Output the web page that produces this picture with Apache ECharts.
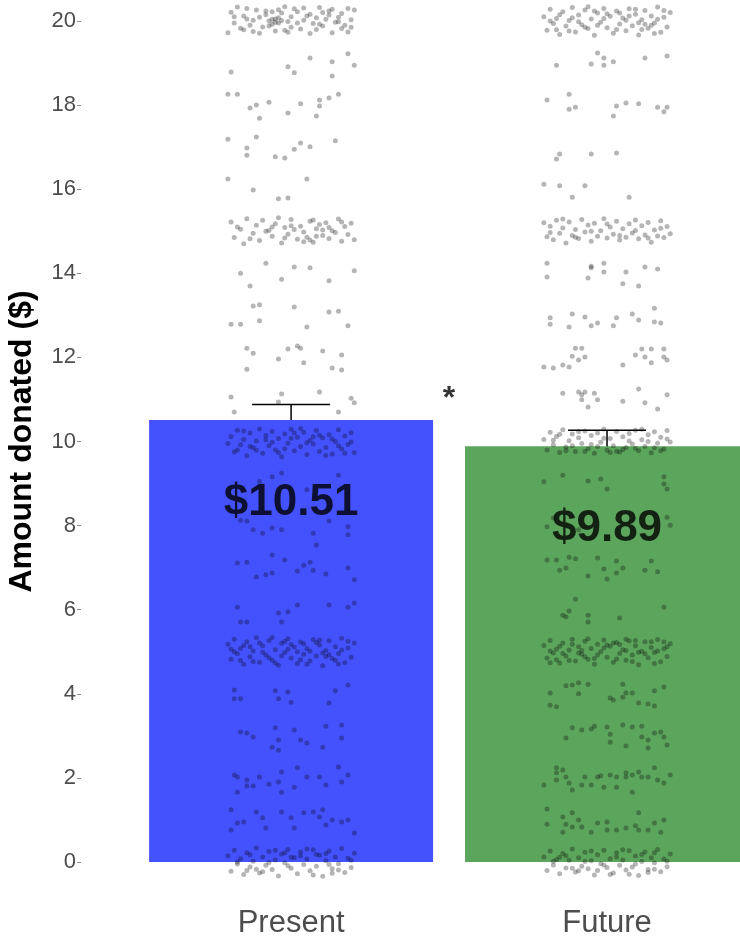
<!DOCTYPE html>
<html>
<head>
<meta charset="utf-8">
<script src="https://cdn.jsdelivr.net/npm/echarts@6/dist/echarts.min.js"></script>
<style>
  html, body { margin: 0; padding: 0; background: #fff; }
  #main { width: 740px; height: 938px; }
</style>
</head>
<body>
<div id="main"></div>
<script>
// bars
const categories = ['Present', 'Future'];
const means = [10.51, 9.89];
const errLow = [10.14, 9.51];
const errHigh = [10.88, 10.27];
const labelY = [8.55, 7.93];
const barColors = ['#4452fe', '#5ca55c'];
// significance mark between the bars
const sigMark = [[1, 11.0]];

// jittered donations: [x offset from category centre, amount]
const presentDots = [
  // ~20
  [-.19,20.21],[-.16,19.83],[-.14,20.30],[-.12,20.02],[-.10,19.71],[-.08,20.15],[-.06,19.92],[-.05,20.05],[-.04,20.27],[-.02,19.78],
  [.00,20.10],[.02,19.95],[.04,20.31],[.06,19.70],[.08,20.08],[.10,19.88],[.12,20.24],[.14,19.97],[.16,20.18],[.18,19.74],
  [.19,20.03],[-.18,19.95],[-.15,20.12],[-.11,20.26],[-.09,19.86],[-.07,20.00],[-.05,19.76],[-.03,20.19],[-.01,19.99],[.01,20.29],
  [.03,19.81],[.05,20.12],[.07,19.94],[.09,20.32],[.11,20.04],[.13,19.72],[.15,20.09],[.17,19.90],[.20,20.26],[-.20,19.72],
  [-.17,20.33],[-.13,19.90],[-.06,20.22],[-.04,20.08],[-.05,19.97],[.00,19.85],[.04,20.02],[.08,19.80],[.12,20.14],[.16,19.82],
  [-.10,20.09],[-.15,19.79],[.18,20.30],[-.02,20.34],[.10,20.20],[-.07,19.88],[-.06,20.04],[-.04,19.95],[-.08,20.24],[.13,20.28],
  [-.12,19.75],[.06,20.16],[.15,19.98],[-.18,20.10],[.02,20.22],[-.01,19.73],[.19,19.85],[-.14,20.05],[.09,19.92],[-.03,20.01],
  // 19
  [-.19,18.79],[-.01,18.91],[.01,18.77],[.06,19.12],[.13,19.03],[.13,18.69],[.18,19.22],[.20,18.95],
  // 18
  [-.20,18.26],[-.17,18.26],[-.13,17.93],[-.11,18.00],[-.10,17.69],[-.07,18.07],[-.01,17.81],[.03,18.03],[.08,17.74],[.09,18.12],
  [.09,17.98],[.12,18.17],[.15,18.26],
  // 17
  [-.20,17.19],[-.14,16.98],[-.14,16.81],[-.11,17.24],[-.05,16.77],[-.02,16.74],[.01,16.95],[.03,17.10],[.06,17.01],[.14,17.15],
  // 16
  [-.20,16.24],[-.12,15.98],[-.04,15.77],[-.01,15.79],[.05,16.24],
  // ~15
  [-.19,15.22],[-.18,14.85],[-.16,15.05],[-.15,14.70],[-.14,15.30],[-.12,14.95],[-.11,15.14],[-.10,14.78],[-.09,15.26],[-.07,15.02],
  [-.06,14.88],[-.05,15.18],[-.03,14.72],[-.02,15.09],[-.01,14.93],[.00,15.28],[.02,14.81],[.03,15.12],[.04,14.98],[.06,15.24],
  [.07,14.74],[.08,15.06],[.10,14.90],[.11,15.20],[.12,14.83],[.13,15.01],[.15,15.29],[.16,14.76],[.17,15.11],[.18,14.92],
  [.19,15.19],[.20,14.80],[-.17,15.10],[-.13,14.82],[-.08,15.00],[-.04,15.32],[.01,15.04],[.05,14.86],[.09,15.16],[.14,14.97],
  [.04,14.75],[.00,15.13],[-.02,14.84],[.07,15.27],[.12,15.09],[.06,14.79],[.10,15.03],[.08,14.88],[-.06,15.10],[.16,15.22],
  // 14
  [-.08,14.24],[-.16,14.00],[-.13,13.70],[.01,14.15],[-.03,13.86],[.06,14.13],[.12,13.82],[.20,14.06],
  // 13
  [-.12,13.22],[-.10,13.25],[.01,13.20],[.12,13.08],[.15,13.10],[-.19,12.79],[-.16,12.79],[-.10,12.87],[.05,12.72],[.18,12.75],
  // 12
  [-.14,12.22],[-.12,12.10],[-.14,11.72],[-.04,11.96],[-.01,12.20],[.02,12.27],[.03,12.22],[.04,11.87],[.10,12.15],[.13,11.75],
  [.16,12.06],[.16,11.70],
  // 11
  [-.19,11.06],[-.18,10.70],[-.03,11.13],[-.04,10.94],[.09,11.18],[.19,11.03],[.20,10.92],[.15,10.70],
  // ~10
  [-.19,10.12],[-.18,9.75],[-.17,10.27],[-.16,9.92],[-.15,10.05],[-.14,9.66],[-.13,10.20],[-.12,9.85],[-.11,10.01],[-.10,10.30],
  [-.09,9.72],[-.08,10.14],[-.07,9.90],[-.06,10.24],[-.05,9.80],[-.04,10.07],[-.03,9.64],[-.02,10.18],[-.01,9.96],[.00,10.29],
  [.01,9.78],[.02,10.10],[.03,9.88],[.04,10.22],[.05,9.69],[.06,10.03],[.07,9.94],[.08,10.26],[.09,9.76],[.10,10.09],
  [.11,9.86],[.12,10.16],[.13,9.70],[.14,10.00],[.15,10.28],[.16,9.82],[.17,10.13],[.18,9.93],[.19,10.21],[.20,9.74],
  [-.20,9.95],[-.15,10.25],[-.11,9.79],[-.06,9.98],[-.02,9.83],[.03,10.31],[.07,10.11],[.11,9.67],[.15,9.90],[.19,9.99],
  [-.08,10.04],[.00,10.08],[.05,9.97],[-.13,9.88],[.13,10.06],[-.04,9.74],[.01,10.20],[.09,10.15],[-.17,9.80],[.17,9.72],
  // 9
  [-.03,9.25],[-.06,9.16],[-.10,9.05],[.05,8.85],[.15,9.20],
  // 8
  [-.16,8.13],[-.14,8.11],[-.12,7.90],[-.09,7.82],[-.06,7.94],[-.03,7.90],[.07,7.82],[.12,8.11],[.18,7.97],[.18,7.78],[.08,7.54],
  // 7
  [-.17,7.11],[-.14,7.13],[-.11,6.78],[-.08,6.83],[-.06,6.87],[-.06,7.30],[-.02,7.18],[.02,6.92],[.04,7.06],[.06,7.13],
  [.07,6.94],[.11,6.85],[.18,6.99],[.20,6.71],
  // 6
  [-.17,6.06],[-.16,5.71],[-.14,5.71],[-.04,5.92],[-.01,5.95],[-.03,5.71],[.02,6.11],[.12,6.11],[.18,6.06],[.20,6.16],
  // ~5
  [-.20,5.18],[-.19,4.82],[-.18,5.30],[-.17,4.95],[-.16,5.08],[-.15,4.70],[-.14,5.24],[-.13,4.88],[-.12,5.02],[-.11,5.33],
  [-.10,4.75],[-.09,5.14],[-.08,4.92],[-.07,5.27],[-.06,4.80],[-.05,5.05],[-.04,4.68],[-.03,5.20],[-.02,4.98],[-.01,5.31],
  [.00,4.85],[.01,5.11],[.02,4.72],[.03,5.23],[.04,4.94],[.05,5.07],[.06,4.78],[.07,5.29],[.08,4.90],[.09,5.16],
  [.10,4.67],[.11,5.03],[.12,5.26],[.13,4.84],[.14,5.12],[.15,4.96],[.16,5.32],[.17,4.74],[.18,5.09],[.19,4.87],
  [.20,5.21],[-.18,5.00],[-.15,5.15],[-.12,4.77],[-.09,4.99],[-.06,5.34],[-.03,4.90],[.00,5.17],[.03,4.81],[.06,5.01],
  [.09,5.28],[.12,4.93],[.15,4.71],[.18,5.25],[-.01,5.06],[.04,5.19],[-.07,4.86],[.10,4.97],[-.16,4.79],[.16,5.04],
  [-.13,5.12],[-.05,4.73],[.02,5.00],[.08,5.22],[.14,4.80],[-.19,5.06],[-.10,5.21],[.11,4.89],[.05,4.70],[-.02,5.25],
  // 4
  [-.18,4.09],[-.18,3.88],[-.16,3.88],[-.05,4.07],[-.04,3.88],[-.01,4.04],[.00,3.80],[.14,4.07],[.12,3.78],[.18,4.21],
  // 3
  [-.16,3.09],[-.14,3.07],[-.12,2.97],[-.06,2.73],[-.05,3.19],[-.04,2.90],[.01,3.14],[.03,2.90],[.05,2.83],[.10,2.73],
  [.11,3.23],[.16,3.26],[.16,2.95],[-.04,2.66],
  // 2
  [-.18,2.07],[-.17,2.02],[-.14,1.95],[-.10,2.02],[-.14,1.81],[-.17,1.66],[-.12,1.81],[-.07,1.85],[-.03,2.14],[-.03,1.66],
  [.02,2.24],[.01,1.78],[.05,2.02],[.09,2.02],[.11,1.83],[.15,2.26],[.16,1.90],[.18,2.07],[-.04,1.90],
  // 1
  [-.19,1.24],[-.11,1.19],[-.17,0.93],[-.15,0.95],[-.09,1.05],[-.03,1.19],[.00,1.05],[.01,0.81],[.04,1.17],[.07,1.19],
  [.09,1.07],[.10,1.24],[.11,0.88],[.13,1.00],[.16,0.95],[.18,1.00],[.20,0.69],[-.19,0.76],[-.08,0.81],
  // ~0
  [-.20,0.15],[-.19,-0.22],[-.18,0.28],[-.17,-0.05],[-.16,0.08],[-.15,-0.30],[-.14,0.22],[-.13,-0.12],[-.12,0.02],[-.11,0.33],
  [-.10,-0.26],[-.09,0.12],[-.08,-0.08],[-.07,0.25],[-.06,-0.18],[-.05,0.05],[-.04,-0.33],[-.03,0.19],[-.02,-0.02],[-.01,0.30],
  [.00,-0.15],[.01,0.10],[.02,-0.28],[.03,0.24],[.04,-0.06],[.05,0.07],[.06,-0.21],[.07,0.29],[.08,-0.10],[.09,0.16],
  [.10,-0.34],[.11,0.03],[.12,0.26],[.13,-0.16],[.14,0.12],[.15,-0.04],[.16,0.32],[.17,-0.25],[.18,0.09],[.19,-0.13],
  [.20,0.21],[-.17,0.00],[-.13,0.17],[-.09,-0.23],[-.05,0.28],[-.01,-0.09],[.03,0.14],[.07,-0.31],[.11,0.20],[.15,-0.19],
  [.19,0.04],[-.07,-0.01],[.05,0.31],[-.11,-0.17],[.13,-0.27],[-.02,0.22],[.08,0.18],[-.14,-0.20],[.12,-0.06],[.00,0.11]
];

const futureDots = [
  // ~20
  [-.20,20.10],[-.19,19.78],[-.18,20.28],[-.17,19.94],[-.16,20.06],[-.15,19.68],[-.14,20.22],[-.13,19.88],[-.12,20.01],[-.11,20.32],
  [-.10,19.74],[-.09,20.14],[-.08,19.91],[-.07,20.26],[-.06,19.82],[-.05,20.05],[-.04,19.66],[-.03,20.19],[-.02,19.97],[-.01,20.30],
  [.00,19.84],[.01,20.11],[.02,19.71],[.03,20.24],[.04,19.93],[.05,20.07],[.06,19.77],[.07,20.29],[.08,19.89],[.09,20.16],
  [.10,19.67],[.11,20.03],[.12,20.25],[.13,19.83],[.14,20.12],[.15,19.95],[.16,20.33],[.17,19.73],[.18,20.09],[.19,19.86],
  [.20,20.20],[-.18,20.00],[-.15,20.15],[-.12,19.76],[-.09,19.98],[-.06,20.34],[-.03,19.90],[.00,20.17],[.03,19.80],[.06,20.02],
  [.09,20.28],[.12,19.92],[.15,19.70],[.18,20.25],[-.01,20.06],[.04,20.19],[-.07,19.85],[.10,19.96],[-.16,19.79],[.16,20.04],
  [.07,20.12],[.11,19.80],[-.04,20.24],[.14,19.90],[-.11,20.08],
  // 19
  [-.16,18.95],[-.03,19.24],[-.01,19.12],[-.05,18.98],[-.01,18.95],[.02,19.03],[.12,19.12],[.19,19.17],
  // 18
  [-.19,18.12],[-.12,18.26],[-.12,17.90],[-.10,17.95],[.03,17.98],[.02,17.74],[.06,18.05],[.10,18.03],[.16,17.95],[.19,17.95],[.18,17.84],
  // 17
  [-.15,16.84],[-.16,16.72],[-.05,16.84],[.03,16.86],
  // 16
  [-.20,16.12],[-.15,16.08],[-.07,16.08],[-.11,15.81],[.07,15.81],
  // ~15
  [-.20,15.20],[-.19,14.87],[-.18,15.12],[-.17,14.80],[-.16,15.26],[-.15,14.95],[-.14,15.08],[-.13,14.72],[-.12,15.22],[-.11,14.90],
  [-.10,15.04],[-.09,14.83],[-.08,15.28],[-.07,14.98],[-.06,15.15],[-.05,14.76],[-.04,15.19],[-.03,14.88],[-.02,15.01],[-.01,15.30],
  [.00,14.84],[.01,15.10],[.02,14.93],[.03,15.24],[.04,14.79],[.05,15.06],[.06,14.86],[.07,15.18],[.08,14.96],[.09,15.27],
  [.10,14.82],[.11,15.13],[.12,14.91],[.13,15.21],[.14,14.74],[.15,15.03],[.16,14.89],[.17,15.25],[.18,14.85],[.19,15.11],
  [-.18,14.97],[-.14,15.29],[-.10,14.86],[-.05,15.00],[.00,15.17],[.04,14.90],[.09,15.02],[.13,14.84],[.17,15.07],[.20,14.94],
  // 14
  [-.19,14.24],[-.19,13.91],[-.05,14.17],[-.05,14.13],[-.06,13.89],[-.01,14.24],[-.01,14.03],[.06,14.03],[.05,13.75],[.10,13.70],
  [.12,14.15],[.16,14.10],
  // 13
  [-.18,12.94],[-.11,13.03],[-.07,12.96],[.03,12.94],[.08,13.03],[.15,13.17],[-.18,12.79],[-.12,12.72],[-.05,12.75],[-.03,12.82],
  [.02,12.75],[.10,12.89],[.15,12.84],[.17,12.82],
  // 12
  [-.10,12.22],[-.08,12.22],[-.11,12.03],[-.09,11.94],[-.07,12.01],[-.20,11.77],[-.17,11.75],[-.14,11.82],[-.12,11.77],[.05,11.82],
  [.09,12.06],[.11,12.20],[.14,12.20],[.12,12.01],[.14,11.87],[.18,12.01],[.19,11.94],[.18,12.20],
  // 11
  [-.14,11.15],[-.09,11.18],[-.08,11.11],[-.07,11.18],[-.04,11.15],[-.03,10.99],[-.08,10.99],[-.06,10.82],[.05,10.96],[.10,11.25],
  [.12,10.92],[.16,10.77],[.19,11.11],
  // ~10
  [-.20,10.05],[-.19,9.80],[-.18,10.22],[-.17,9.92],[-.16,10.12],[-.15,9.74],[-.14,10.28],[-.13,9.87],[-.12,10.02],[-.11,10.18],
  [-.10,9.76],[-.09,10.09],[-.08,9.95],[-.07,10.25],[-.06,9.83],[-.05,10.14],[-.04,9.72],[-.03,10.20],[-.02,9.98],[-.01,10.30],
  [.00,9.79],[.01,10.07],[.02,9.90],[.03,10.24],[.04,9.75],[.05,10.11],[.06,9.86],[.07,10.19],[.08,9.94],[.09,10.27],
  [.10,9.78],[.11,10.04],[.12,9.89],[.13,10.16],[.14,9.73],[.15,10.23],[.16,9.96],[.17,10.10],[.18,9.82],[.19,10.26],
  [.20,9.99],[-.17,10.03],[-.13,9.78],[-.09,10.24],[-.05,9.93],[-.01,10.08],[.03,9.77],[.07,10.01],[.11,10.29],[.15,9.85],
  [.19,10.06],[-.15,10.17],[.05,9.81],[-.03,9.88],[.13,10.00],[-.07,9.76],[.09,9.84],[-.11,9.90],[.01,9.74],[.17,9.78],
  // 9
  [-.14,9.20],[-.20,9.04],[-.06,9.06],[-.02,9.11],[.00,8.87],[.18,9.16],[.18,8.99],[.19,8.87],
  // 8
  [-.19,7.97],[-.17,8.18],[.19,8.20],[.20,8.01],[-.09,7.90],
  // 7
  [-.19,7.18],[-.16,7.18],[-.12,7.25],[-.10,7.21],[-.15,6.94],[-.13,6.99],[-.06,6.80],[-.03,7.23],[-.01,6.97],[.00,6.73],
  [.03,7.16],[.03,6.87],[.05,6.99],[.12,6.94],[.14,7.16],[.16,6.90],
  // 6
  [-.10,6.25],[-.14,5.87],[-.12,5.97],[-.13,5.83],[-.06,5.87],[-.06,5.71],[.04,5.80],[.18,6.06],
  // ~5
  [-.20,5.15],[-.19,4.85],[-.18,5.27],[-.17,4.97],[-.16,5.06],[-.15,4.73],[-.14,5.21],[-.13,4.90],[-.12,5.04],[-.11,5.30],
  [-.10,4.78],[-.09,5.12],[-.08,4.94],[-.07,5.25],[-.06,4.82],[-.05,5.08],[-.04,4.70],[-.03,5.18],[-.02,5.00],[-.01,5.28],
  [.00,4.87],[.01,5.13],[.02,4.75],[.03,5.22],[.04,4.96],[.05,5.05],[.06,4.80],[.07,5.26],[.08,4.92],[.09,5.14],
  [.10,4.69],[.11,5.01],[.12,5.24],[.13,4.86],[.14,5.10],[.15,4.98],[.16,5.29],[.17,4.76],[.18,5.07],[.19,4.89],
  [.20,5.19],[-.18,5.02],[-.15,5.13],[-.12,4.79],[-.09,4.97],[-.06,5.31],[-.03,4.92],[.00,5.16],[.03,4.83],[.06,5.03],
  [.09,5.27],[.12,4.95],[.15,4.72],[.18,5.23],[-.01,5.09],[.04,5.17],[-.07,4.88],[.10,4.99],[-.16,4.81],[.16,5.02],
  [-.11,5.18],[-.04,4.84],[.02,5.21],[.08,4.77],[.14,5.24],[-.18,4.74],[.19,5.12],[-.08,5.03],[.06,5.30],[-.14,4.96],
  // 4
  [-.18,4.02],[-.18,3.73],[-.16,3.69],[-.13,4.19],[-.11,4.21],[-.09,4.26],[-.06,4.23],[-.09,4.00],[.01,3.90],[.02,3.85],
  [.05,4.23],[.06,4.02],[.05,3.92],[.08,4.02],[.10,3.78],[.13,3.76],[.15,3.71],[.15,4.07],[.18,4.16],
  // 3
  [-.13,2.95],[-.11,3.19],[-.08,3.14],[-.05,3.16],[-.04,3.23],[.01,2.85],[.01,3.04],[.00,3.21],[.05,3.26],[.06,2.76],
  [.08,3.21],[.11,3.23],[.11,2.97],[.13,2.90],[.13,2.71],[.17,3.09],[.18,2.97],[.19,2.78],[.15,3.07],
  // 2
  [-.20,1.83],[-.16,2.12],[-.16,1.95],[-.14,2.19],[-.13,2.02],[-.12,1.88],[-.11,1.71],[-.08,1.83],[-.07,2.02],[-.05,1.83],
  [-.03,2.02],[-.02,2.05],[-.01,1.78],[.01,2.07],[.03,2.02],[.03,1.78],[.06,2.12],[.06,2.02],[.08,1.66],[.08,2.07],
  [.10,2.14],[.11,2.02],[.13,2.02],[.15,2.24],[.16,1.95],[.18,1.88],[.20,2.07],[-.16,2.24],
  // 1
  [-.19,1.26],[-.19,0.90],[-.14,1.07],[-.13,0.90],[-.11,1.17],[-.11,0.83],[-.08,0.83],[-.09,1.00],[-.05,0.71],[-.03,0.93],
  [.00,0.95],[.00,0.76],[.03,0.76],[.06,0.81],[.09,0.86],[.10,1.17],[.10,0.76],[.13,0.76],[.15,0.93],[.17,0.71],
  [.18,1.00],[-.14,0.71],
  // ~0
  [-.20,0.12],[-.19,-0.20],[-.18,0.26],[-.17,-0.07],[-.16,0.06],[-.15,-0.28],[-.14,0.20],[-.13,-0.14],[-.12,0.04],[-.11,0.31],
  [-.10,-0.24],[-.09,0.10],[-.08,-0.10],[-.07,0.23],[-.06,-0.16],[-.05,0.03],[-.04,-0.31],[-.03,0.17],[-.02,-0.04],[-.01,0.28],
  [.00,-0.13],[.01,0.08],[.02,-0.26],[.03,0.22],[.04,-0.08],[.05,0.05],[.06,-0.19],[.07,0.27],[.08,-0.12],[.09,0.14],
  [.10,-0.32],[.11,0.01],[.12,0.24],[.13,-0.18],[.14,0.10],[.15,-0.02],[.16,0.30],[.17,-0.23],[.18,0.07],[.19,-0.11],
  [.20,0.19],[-.17,0.02],[-.13,0.15],[-.09,-0.21],[-.05,0.26],[-.01,-0.07],[.03,0.12],[.07,-0.29],[.11,0.18],[.15,-0.17],
  [.19,0.02],[-.07,0.01],[.05,0.29],[-.11,-0.15],[.13,-0.25],[.09,-0.05],[-.03,-0.20],[.15,0.22],[-.15,0.11],[.01,-0.30]
];

var chart = echarts.init(document.getElementById('main'), null, { renderer: 'canvas' });

var FONT = '"Liberation Sans", Arial, sans-serif';

// category i sits at i + 0.5 on the value x axis; the axis starts a bit left of 0
var xStart = -0.165;

function place(dots, i) {
  return dots.map(function (d) { return [i + 0.5 + d[0], d[1]]; });
}

var option = {
  animation: false,
  backgroundColor: '#fff',
  grid: {
    left: 81,
    top: 21,
    width: 684,
    height: 841,
    containLabel: false,
    outerBoundsMode: 'none'
  },
  xAxis: {
    type: 'value',
    min: xStart,
    max: 2,
    axisLine: { show: false, onZero: false },
    axisTick: { show: false },
    splitLine: { show: false },
    axisLabel: {
      customValues: categories.map(function (c, i) { return i + 0.5; }),
      formatter: function (v) { return categories[Math.round(v - 0.5)]; },
      fontSize: 31,
      color: '#4d4d4d',
      fontFamily: FONT,
      margin: 46
    }
  },
  yAxis: {
    type: 'value',
    min: 0,
    max: 20,
    interval: 2,
    name: 'Amount donated ($)',
    nameLocation: 'middle',
    nameGap: 43,
    nameTextStyle: { fontSize: 32, fontWeight: 'bold', color: '#000', fontFamily: FONT },
    axisLine: { show: false, onZero: false },
    axisTick: { show: true, length: 4, lineStyle: { color: '#8c8c8c' } },
    axisLabel: { fontSize: 22, color: '#4d4d4d', fontFamily: FONT, margin: 5 },
    splitLine: { show: false }
  },
  series: [
    {
      type: 'bar',
      barWidth: 284,
      data: means.map(function (v, i) {
        return { value: [i + 0.5, v], itemStyle: { color: barColors[i] } };
      })
    },
    {
      type: 'scatter',
      clip: false,
      symbolSize: 5,
      itemStyle: { color: 'rgba(0,0,0,0.36)' },
      data: place(presentDots, 0).concat(place(futureDots, 1))
    },
    {
      type: 'custom',
      clip: false,
      data: categories.map(function (c, i) { return [i + 0.5, errLow[i], errHigh[i]]; }),
      encode: { x: 0, y: [1, 2] },
      renderItem: function (params, api) {
        var top = api.coord([api.value(0), api.value(2)]);
        var bot = api.coord([api.value(0), api.value(1)]);
        var w = 39;
        var st = { stroke: '#000', lineWidth: 1.5 };
        return {
          type: 'group',
          children: [
            { type: 'line', shape: { x1: top[0], y1: top[1], x2: bot[0], y2: bot[1] }, style: st },
            { type: 'line', shape: { x1: top[0] - w, y1: top[1], x2: top[0] + w, y2: top[1] }, style: st },
            { type: 'line', shape: { x1: bot[0] - w, y1: bot[1], x2: bot[0] + w, y2: bot[1] }, style: st }
          ]
        };
      }
    },
    {
      // "$10.51" style labels inside the bars
      type: 'scatter',
      symbolSize: 1,
      itemStyle: { color: 'rgba(0,0,0,0)' },
      data: labelY.map(function (y, i) { return [i + 0.5, y]; }),
      label: {
        show: true,
        position: 'inside',
        fontSize: 44,
        fontWeight: 'bold',
        color: '#000',
        fontFamily: FONT,
        formatter: function (p) { return '$' + means[p.dataIndex].toFixed(2); }
      }
    },
    {
      type: 'scatter',
      symbolSize: 1,
      clip: false,
      itemStyle: { color: 'rgba(0,0,0,0)' },
      data: sigMark,
      label: {
        show: true,
        position: 'inside',
        fontSize: 32,
        fontWeight: 'bold',
        color: '#000',
        fontFamily: FONT,
        formatter: '*'
      }
    }
  ]
};

chart.setOption(option);
</script>
</body>
</html>
